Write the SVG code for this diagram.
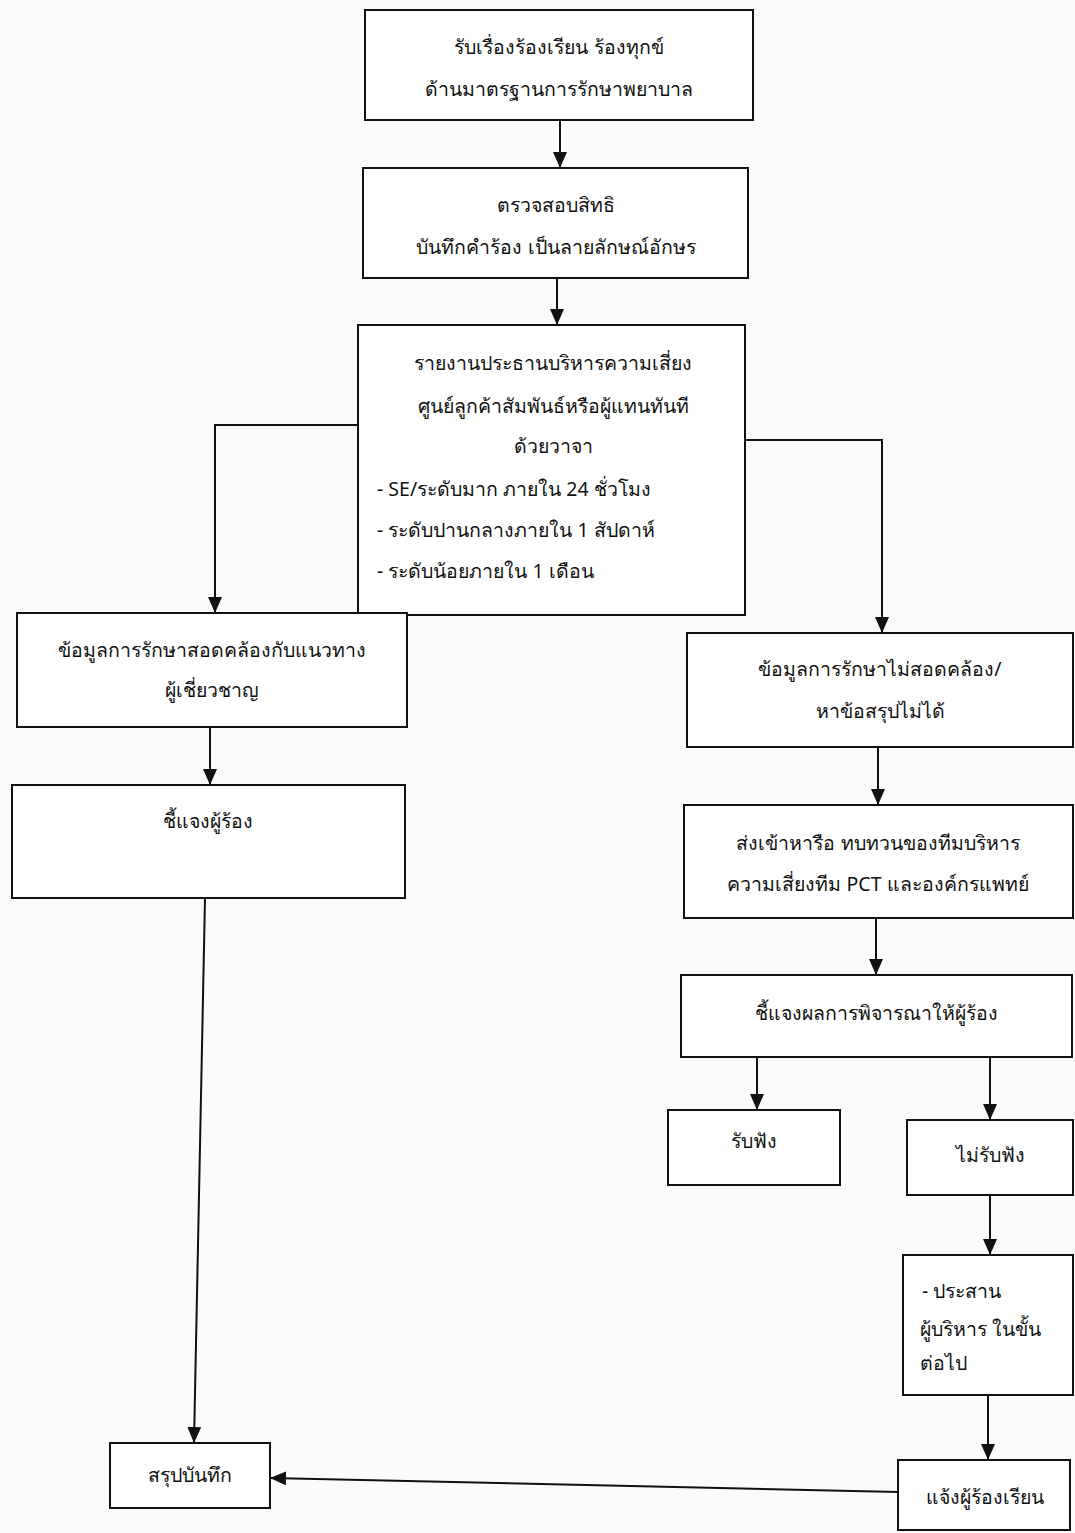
<svg xmlns="http://www.w3.org/2000/svg" width="1075" height="1533" viewBox="0 0 1075 1533">
<style>
.box{fill:#fff;stroke:#111;stroke-width:2}
.t{font-family:"Noto Sans","DejaVu Sans",sans-serif;font-size:19.5px;fill:#111}
.c{text-anchor:middle}
.ln{stroke:#111;stroke-width:2;fill:none}
</style>
<defs>
<marker id="ah" markerWidth="16" markerHeight="14" refX="16" refY="7" orient="auto" markerUnits="userSpaceOnUse" viewBox="0 0 16 14">
<path d="M0,0 L16,7 L0,14 z" fill="#111"/>
</marker>
</defs>
<rect width="1075" height="1533" fill="#fbfbfa"/>
<g id="connectors">
<line class="ln" x1="560" y1="120" x2="560" y2="168" marker-end="url(#ah)"/>
<line class="ln" x1="557" y1="278" x2="557" y2="325" marker-end="url(#ah)"/>
<polyline class="ln" points="358,425 215,425 215,613" marker-end="url(#ah)"/>
<polyline class="ln" points="745,440 882,440 882,633" marker-end="url(#ah)"/>
<line class="ln" x1="210" y1="727" x2="210" y2="785" marker-end="url(#ah)"/>
<line class="ln" x1="878" y1="747" x2="878" y2="805" marker-end="url(#ah)"/>
<line class="ln" x1="876" y1="918" x2="876" y2="975" marker-end="url(#ah)"/>
<line class="ln" x1="757" y1="1046" x2="757" y2="1110" marker-end="url(#ah)"/>
<line class="ln" x1="990" y1="1057" x2="990" y2="1120" marker-end="url(#ah)"/>
<line class="ln" x1="990" y1="1195" x2="990" y2="1255" marker-end="url(#ah)"/>
<line class="ln" x1="988" y1="1395" x2="988" y2="1460" marker-end="url(#ah)"/>
<line class="ln" x1="205" y1="898" x2="194" y2="1443" marker-end="url(#ah)"/>
<line class="ln" x1="898" y1="1492" x2="270" y2="1478" marker-end="url(#ah)"/>
</g>
<g id="n1"><rect class="box" x="365" y="10" width="388" height="110"/>
<text class="t c" x="559" y="54">รับเรื่องร้องเรียน ร้องทุกข์</text>
<text class="t c" x="559" y="96">ด้านมาตรฐานการรักษาพยาบาล</text></g>
<g id="n2"><rect class="box" x="363" y="168" width="385" height="110"/>
<text class="t c" x="556" y="212">ตรวจสอบสิทธิ</text>
<text class="t c" x="556" y="254">บันทึกคำร้อง เป็นลายลักษณ์อักษร</text></g>
<g id="n3"><rect class="box" x="358" y="325" width="387" height="290"/>
<text class="t c" x="553" y="370">รายงานประธานบริหารความเสี่ยง</text>
<text class="t c" x="553" y="413">ศูนย์ลูกค้าสัมพันธ์หรือผู้แทนทันที</text>
<text class="t c" x="553" y="453">ด้วยวาจา</text>
<text class="t" x="377" y="496">- SE/ระดับมาก ภายใน 24 ชั่วโมง</text>
<text class="t" x="377" y="537">- ระดับปานกลางภายใน 1 สัปดาห์</text>
<text class="t" x="377" y="578">- ระดับน้อยภายใน 1 เดือน</text></g>
<g id="n4"><rect class="box" x="17" y="613" width="390" height="114"/>
<text class="t c" x="212" y="657">ข้อมูลการรักษาสอดคล้องกับแนวทาง</text>
<text class="t c" x="212" y="697">ผู้เชี่ยวชาญ</text></g>
<g id="n5"><rect class="box" x="687" y="633" width="386" height="114"/>
<text class="t c" x="880" y="676">ข้อมูลการรักษาไม่สอดคล้อง/</text>
<text class="t c" x="880" y="718">หาข้อสรุปไม่ได้</text></g>
<g id="n6"><rect class="box" x="12" y="785" width="393" height="113"/>
<text class="t c" x="208" y="828">ชี้แจงผู้ร้อง</text></g>
<g id="n7"><rect class="box" x="684" y="805" width="389" height="113"/>
<text class="t c" x="878" y="850">ส่งเข้าหารือ ทบทวนของทีมบริหาร</text>
<text class="t c" x="878" y="891">ความเสี่ยงทีม PCT และองค์กรแพทย์</text></g>
<g id="n8"><rect class="box" x="681" y="975" width="391" height="82"/>
<text class="t c" x="876" y="1020">ชี้แจงผลการพิจารณาให้ผู้ร้อง</text></g>
<g id="n9"><rect class="box" x="668" y="1110" width="172" height="75"/>
<text class="t c" x="754" y="1148">รับฟัง</text></g>
<g id="n10"><rect class="box" x="907" y="1120" width="166" height="75"/>
<text class="t c" x="990" y="1162">ไม่รับฟัง</text></g>
<g id="n11"><rect class="box" x="903" y="1255" width="170" height="140"/>
<text class="t" x="922" y="1298">- ประสาน</text>
<text class="t" x="920" y="1336">ผู้บริหาร ในขั้น</text>
<text class="t" x="920" y="1370">ต่อไป</text></g>
<g id="n12"><rect class="box" x="898" y="1460" width="172" height="70"/>
<text class="t c" x="985" y="1504">แจ้งผู้ร้องเรียน</text></g>
<g id="n13"><rect class="box" x="110" y="1443" width="160" height="65"/>
<text class="t c" x="190" y="1482">สรุปบันทึก</text></g>
</svg>
